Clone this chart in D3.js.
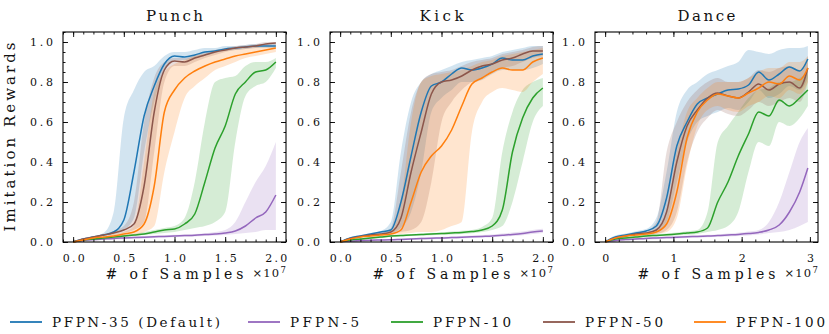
<!DOCTYPE html>
<html lang="en">
<head>
<meta charset="UTF-8">
<title>PFPN imitation rewards</title>
<script src="https://d3js.org/d3.v7.min.js"></script>
<style>
  body { margin: 0; background: #fff; }
  svg { display: block; font-family: "DejaVu Serif", serif; }
</style>
</head>
<body>
<div id="chart"></div>
<script>
// ---------- data (x in units of 1e7 samples) ----------
var panelTitles = ["Punch", "Kick", "Dance"];
var seriesNames = ["PFPN-35 (Default)", "PFPN-5", "PFPN-10", "PFPN-50", "PFPN-100"];
var seriesColors = ["#1f77b4", "#9467bd", "#2ca02c", "#8c564b", "#ff7f0e"];

var yTicks = [0, 0.2, 0.4, 0.6, 0.8, 1.0];
var xTicksShort = [0, 0.5, 1.0, 1.5, 2.0];
var xTicksLong = [0, 1, 2, 3];

// Punch
var punchX = [0, 0.1, 0.2, 0.3, 0.4, 0.5, 0.6, 0.7, 0.8, 0.9, 1.0, 1.1, 1.2, 1.3, 1.4, 1.5, 1.6, 1.7, 1.8, 1.9, 2.0];
var punch35Mean = [0, .015, .025, .035, .05, .11, .35, .63, .78, .89, .93, .925, .935, .95, .955, .965, .97, .975, .98, .98, .98];
var punch35Lo = [0, .01, .02, .03, .04, .06, .12, .45, .7, .85, .91, .91, .92, .93, .945, .955, .96, .965, .97, .97, .97];
var punch35Hi = [.005, .02, .03, .045, .15, .62, .76, .85, .88, .93, .95, .95, .96, .97, .97, .98, .98, .985, .99, .99, .99];
var punch5Mean = [0, .008, .012, .015, .018, .02, .022, .024, .026, .028, .03, .032, .034, .037, .04, .045, .055, .08, .12, .15, .235];
var punch5Lo = [0, .004, .008, .01, .012, .014, .016, .018, .02, .022, .024, .026, .028, .03, .032, .035, .04, .045, .05, .06, .06];
var punch5Hi = [.004, .012, .016, .02, .024, .026, .028, .03, .032, .034, .036, .038, .04, .044, .05, .06, .1, .2, .3, .38, .5];
var punch10Mean = [0, .01, .015, .02, .025, .03, .035, .04, .05, .06, .065, .09, .14, .3, .47, .58, .74, .8, .85, .86, .9];
var punch10Lo = [0, .005, .01, .015, .02, .025, .03, .035, .04, .045, .05, .06, .07, .08, .1, .15, .5, .73, .78, .8, .87];
var punch10Hi = [.005, .015, .02, .025, .03, .035, .04, .05, .06, .07, .08, .12, .3, .6, .8, .82, .83, .88, .9, .9, .92];
var punch50Mean = [0, .015, .025, .035, .045, .06, .09, .28, .65, .86, .905, .9, .92, .935, .95, .96, .97, .975, .98, .99, .995];
var punch50Lo = [0, .01, .02, .03, .035, .045, .06, .1, .45, .8, .88, .88, .9, .92, .935, .95, .96, .965, .97, .98, .985];
var punch50Hi = [.005, .02, .03, .04, .055, .08, .2, .6, .82, .9, .92, .92, .935, .95, .96, .97, .98, .985, .99, 1.0, 1.0];
var punch100Mean = [0, .01, .02, .025, .03, .04, .05, .09, .28, .65, .76, .82, .855, .88, .9, .915, .93, .94, .95, .96, .97];
var punch100Lo = [0, .005, .015, .02, .025, .03, .035, .05, .08, .35, .55, .72, .78, .82, .86, .88, .9, .92, .93, .94, .95];
var punch100Hi = [.005, .015, .025, .03, .04, .05, .08, .4, .75, .85, .89, .91, .93, .94, .95, .96, .965, .97, .975, .98, .985];

// Kick
var kickX = [0, 0.1, 0.2, 0.3, 0.4, 0.5, 0.6, 0.7, 0.8, 0.9, 1.0, 1.1, 1.2, 1.3, 1.4, 1.5, 1.6, 1.7, 1.8, 1.9, 2.0];
var kick35Mean = [0, .02, .03, .04, .05, .06, .2, .43, .65, .78, .8, .84, .87, .86, .87, .89, .92, .91, .91, .93, .94];
var kick35Lo = [0, .015, .025, .033, .04, .045, .07, .15, .35, .65, .72, .76, .8, .8, .81, .84, .86, .86, .86, .87, .89];
var kick35Hi = [.005, .025, .035, .045, .055, .1, .45, .7, .8, .84, .86, .88, .9, .91, .92, .93, .95, .96, .97, .98, .98];
var kick5Mean = [0, .005, .007, .009, .01, .011, .013, .015, .017, .019, .02, .022, .024, .026, .028, .03, .034, .038, .043, .05, .055];
var kick5Lo = [0, .002, .004, .005, .006, .007, .008, .01, .012, .013, .014, .016, .018, .02, .022, .024, .027, .03, .034, .04, .045];
var kick5Hi = [.003, .008, .01, .012, .014, .015, .017, .02, .022, .024, .026, .028, .03, .032, .035, .038, .042, .047, .053, .06, .066];
var kick10Mean = [0, .01, .015, .02, .025, .03, .032, .035, .037, .04, .042, .045, .048, .052, .06, .08, .16, .45, .62, .72, .77];
var kick10Lo = [0, .006, .01, .015, .02, .025, .027, .03, .032, .034, .036, .038, .04, .044, .05, .06, .08, .2, .4, .6, .68];
var kick10Hi = [.004, .014, .02, .025, .03, .035, .037, .04, .042, .046, .048, .052, .056, .06, .075, .12, .45, .65, .76, .8, .82];
var kick50Mean = [0, .018, .028, .035, .04, .05, .12, .35, .55, .74, .8, .81, .83, .86, .88, .89, .91, .92, .94, .955, .955];
var kick50Lo = [0, .013, .022, .03, .035, .04, .05, .06, .1, .3, .6, .7, .76, .8, .82, .85, .87, .88, .9, .92, .93];
var kick50Hi = [.005, .023, .033, .04, .045, .07, .35, .65, .8, .84, .85, .86, .88, .9, .91, .92, .94, .95, .96, .975, .98];
var kick100Mean = [0, .015, .025, .03, .035, .04, .06, .2, .35, .43, .48, .56, .68, .79, .82, .85, .87, .86, .86, .9, .92];
var kick100Lo = [0, .01, .02, .025, .03, .035, .04, .045, .05, .05, .06, .08, .1, .55, .7, .75, .77, .76, .75, .8, .84];
var kick100Hi = [.005, .02, .03, .035, .04, .05, .2, .6, .8, .83, .84, .85, .86, .88, .9, .91, .93, .94, .95, .96, .97];

// Dance
var danceX = [0, .15, .3, .45, .6, .75, .9, 1.05, 1.2, 1.35, 1.5, 1.65, 1.8, 1.95, 2.1, 2.25, 2.4, 2.55, 2.7, 2.85, 2.97];
var dance35Mean = [0, .025, .035, .045, .055, .08, .22, .48, .6, .69, .72, .74, .76, .765, .785, .85, .81, .84, .875, .855, .915];
var dance35Lo = [0, .018, .028, .036, .045, .05, .1, .3, .5, .6, .63, .65, .67, .66, .7, .76, .72, .74, .78, .76, .82];
var dance35Hi = [.005, .032, .042, .054, .065, .12, .35, .65, .76, .8, .84, .86, .88, .9, .96, .95, .94, .96, .97, .97, .98];
var dance5Mean = [0, .008, .012, .015, .018, .02, .022, .024, .026, .028, .03, .032, .035, .038, .042, .048, .06, .085, .15, .25, .37];
var dance5Lo = [0, .004, .008, .01, .012, .014, .016, .018, .02, .022, .024, .026, .028, .03, .033, .038, .045, .05, .06, .08, .1];
var dance5Hi = [.004, .012, .016, .02, .024, .026, .028, .03, .032, .034, .036, .038, .042, .046, .052, .06, .1, .2, .35, .5, .57];
var dance10Mean = [0, .015, .02, .025, .03, .033, .036, .04, .045, .05, .07, .2, .3, .43, .54, .65, .63, .71, .68, .72, .76];
var dance10Lo = [0, .01, .015, .02, .024, .027, .03, .033, .036, .04, .05, .06, .08, .15, .35, .5, .48, .6, .58, .62, .68];
var dance10Hi = [.005, .02, .025, .03, .036, .04, .042, .047, .054, .06, .15, .5, .58, .65, .72, .76, .77, .8, .8, .82, .85];
var dance50Mean = [0, .02, .03, .04, .045, .06, .15, .4, .58, .66, .72, .745, .73, .72, .75, .79, .76, .79, .8, .77, .87];
var dance50Lo = [0, .014, .024, .032, .036, .04, .06, .15, .4, .55, .62, .66, .64, .63, .66, .7, .68, .7, .72, .7, .8];
var dance50Hi = [.005, .026, .036, .048, .055, .1, .45, .6, .7, .76, .8, .82, .8, .8, .82, .86, .85, .87, .88, .86, .93];
var dance100Mean = [0, .02, .03, .035, .04, .05, .09, .25, .52, .65, .71, .74, .73, .72, .745, .77, .8, .79, .83, .81, .87];
var dance100Lo = [0, .014, .024, .028, .032, .04, .05, .12, .38, .58, .66, .68, .66, .65, .68, .7, .73, .72, .76, .74, .8];
var dance100Hi = [.005, .026, .036, .042, .048, .065, .15, .45, .65, .72, .77, .8, .8, .8, .82, .85, .87, .87, .9, .9, .93];

// ---------- panel setup ----------
var panels = [
    { title: panelTitles[0], x: punchX, xTicks: xTicksShort, xMinorStep: 0.1, fmt: ".1f",
      series: [[punch35Mean, punch35Lo, punch35Hi], [punch5Mean, punch5Lo, punch5Hi],
               [punch10Mean, punch10Lo, punch10Hi], [punch50Mean, punch50Lo, punch50Hi],
               [punch100Mean, punch100Lo, punch100Hi]] },
    { title: panelTitles[1], x: kickX, xTicks: xTicksShort, xMinorStep: 0.1, fmt: ".1f",
      series: [[kick35Mean, kick35Lo, kick35Hi], [kick5Mean, kick5Lo, kick5Hi],
               [kick10Mean, kick10Lo, kick10Hi], [kick50Mean, kick50Lo, kick50Hi],
               [kick100Mean, kick100Lo, kick100Hi]] },
    { title: panelTitles[2], x: danceX, xTicks: xTicksLong, xMinorStep: 0.2, fmt: "d",
      series: [[dance35Mean, dance35Lo, dance35Hi], [dance5Mean, dance5Lo, dance5Hi],
               [dance10Mean, dance10Lo, dance10Hi], [dance50Mean, dance50Lo, dance50Hi],
               [dance100Mean, dance100Lo, dance100Hi]] }
];

var totalW = 829, totalH = 334;
var panelLeft = [63, 330, 595];
var panelW = 223, panelTop = 32, panelH = 210;

var svg = d3.select("#chart")
    .append("svg")
    .attr("width", totalW)
    .attr("height", totalH);

svg.append("rect").attr("width", totalW).attr("height", totalH).attr("fill", "#fff");

var y = d3.scaleLinear().domain([0, 1.05]).range([panelH, 0]);
var yMinor = d3.range(0, 22).map(function (k) { return k * 0.05; });

panels.forEach(function (p, i) {
    var g = svg.append("g")
        .attr("transform", "translate(" + panelLeft[i] + "," + panelTop + ")");

    var xMax = p.x[p.x.length - 1];
    var x = d3.scaleLinear().domain([-0.05 * xMax, 1.05 * xMax]).range([0, panelW]);
    var xMinor = d3.range(-2, 40).map(function (k) { return k * p.xMinorStep; })
        .filter(function (v) { return v >= x.domain()[0] - 1e-9 && v <= x.domain()[1] + 1e-9; });

    var rows = p.series.map(function (s) {
        return p.x.map(function (v, j) { return { x: v, m: s[0][j], lo: s[1][j], hi: s[2][j] }; });
    });

    var area = d3.area()
        .x(function (d) { return x(d.x); })
        .y0(function (d) { return y(d.lo); })
        .y1(function (d) { return y(d.hi); })
        .curve(d3.curveMonotoneX);
    var line = d3.line()
        .x(function (d) { return x(d.x); })
        .y(function (d) { return y(d.m); })
        .curve(d3.curveMonotoneX);

    // shaded bands first, then mean lines
    rows.forEach(function (r, k) {
        g.append("path").datum(r)
            .attr("d", area)
            .attr("fill", seriesColors[k])
            .attr("fill-opacity", 0.2)
            .attr("stroke", "none");
    });
    rows.forEach(function (r, k) {
        g.append("path").datum(r)
            .attr("d", line)
            .attr("fill", "none")
            .attr("stroke", seriesColors[k])
            .attr("stroke-width", 1.5);
    });

    // axes: inward ticks on every side
    var axB = g.append("g").attr("class", "ax").attr("transform", "translate(0," + panelH + ")")
        .call(d3.axisBottom(x).tickValues(p.xTicks).tickSize(-5).tickPadding(12).tickFormat(d3.format(p.fmt)));
    g.append("g").attr("class", "ax").attr("transform", "translate(0," + panelH + ")")
        .call(d3.axisBottom(x).tickValues(xMinor).tickSize(-2.5).tickFormat(""));
    g.append("g").attr("class", "ax")
        .call(d3.axisTop(x).tickValues(p.xTicks).tickSize(-5).tickFormat(""));
    g.append("g").attr("class", "ax")
        .call(d3.axisTop(x).tickValues(xMinor).tickSize(-2.5).tickFormat(""));
    var axL = g.append("g").attr("class", "ax")
        .call(d3.axisLeft(y).tickValues(yTicks).tickSize(-5).tickPadding(10).tickFormat(d3.format(".1f")));
    g.append("g").attr("class", "ax")
        .call(d3.axisLeft(y).tickValues(yMinor).tickSize(-2.5).tickFormat(""));
    g.append("g").attr("class", "ax").attr("transform", "translate(" + panelW + ",0)")
        .call(d3.axisRight(y).tickValues(yTicks).tickSize(-5).tickFormat(""));
    g.append("g").attr("class", "ax").attr("transform", "translate(" + panelW + ",0)")
        .call(d3.axisRight(y).tickValues(yMinor).tickSize(-2.5).tickFormat(""));

    g.selectAll(".ax .domain").remove();
    g.selectAll(".ax line").attr("stroke", "#000").attr("stroke-width", 0.9);
    g.selectAll(".ax text")
        .attr("font-family", "DejaVu Serif")
        .attr("font-size", 11)
        .attr("fill", "#111");
    if (p.fmt === ".1f") {
        axB.selectAll("text").attr("textLength", 22).attr("lengthAdjust", "spacing");
    }
    axL.selectAll("text").attr("textLength", 23).attr("lengthAdjust", "spacing");

    // frame
    g.append("rect")
        .attr("width", panelW)
        .attr("height", panelH)
        .attr("fill", "none")
        .attr("stroke", "#000")
        .attr("stroke-width", 1.1);

    // title
    g.append("text")
        .attr("x", panelW / 2)
        .attr("y", 21 - panelTop)
        .attr("text-anchor", "middle")
        .attr("font-size", 15)
        .attr("fill", "#111")
        .attr("textLength", [57, 44, 58][i])
        .attr("lengthAdjust", "spacing")
        .text(p.title);

    // x label and offset text
    g.append("text")
        .attr("x", panelW / 2)
        .attr("y", 279 - panelTop)
        .attr("text-anchor", "middle")
        .attr("font-size", 14)
        .attr("fill", "#111")
        .attr("textLength", 138)
        .attr("lengthAdjust", "spacing")
        .text("# of Samples");

    var off = g.append("text")
        .attr("x", panelW + 1)
        .attr("y", 277 - panelTop)
        .attr("text-anchor", "end")
        .attr("font-size", 11.5)
        .attr("fill", "#111")
        .style("letter-spacing", "1.2px");
    off.append("tspan").text("\u00d710");
    off.append("tspan").attr("dy", -4).attr("font-size", 8.5).text("7");
});

// y axis label
svg.append("text")
    .attr("transform", "translate(15," + (panelTop + panelH / 2) + ") rotate(-90)")
    .attr("text-anchor", "middle")
    .attr("font-size", 15)
    .attr("fill", "#111")
    .attr("textLength", 189)
    .attr("lengthAdjust", "spacing")
    .text("Imitation Rewards");

// legend
var legendX = [10, 248, 391, 543, 694];
var legendTextLen = [168, 69, 78, 78, 89];
var legend = svg.selectAll(".legend")
    .data(seriesNames)
    .enter()
    .append("g")
    .attr("class", "legend")
    .attr("transform", function (d, i) { return "translate(" + legendX[i] + ",322)"; });

legend.append("line")
    .attr("x1", 0).attr("x2", 32)
    .attr("stroke", function (d, i) { return seriesColors[i]; })
    .attr("stroke-width", 1.8);

legend.append("text")
    .attr("x", 42)
    .attr("y", 5)
    .attr("font-size", 13.5)
    .attr("fill", "#111")
    .attr("textLength", function (d, i) { return legendTextLen[i]; })
    .attr("lengthAdjust", "spacing")
    .text(function (d) { return d; });
</script>
</body>
</html>
